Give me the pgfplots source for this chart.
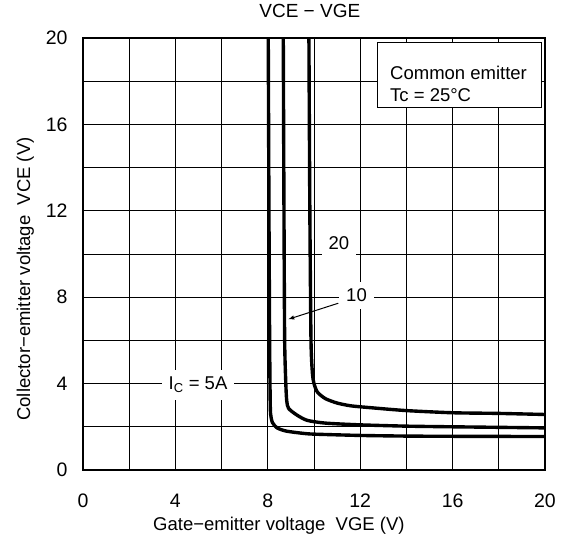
\documentclass[border=0pt]{standalone}
\usepackage{fontspec}
\setmainfont{Liberation Sans}
\usepackage{pgfplots}
\pgfplotsset{compat=1.18}
\newcommand{\fs}{\fontsize{18.5bp}{22bp}\selectfont}
\begin{document}
\begin{tikzpicture}
\useasboundingbox (-83bp,-71bp) rectangle (479bp,470bp);
\begin{axis}[
  at={(0,0)}, anchor=south west,
  scale only axis, width=462bp, height=432bp,
  xmin=0, xmax=20, ymin=0, ymax=20,
  xtick={0,4,...,20}, ytick={0,4,...,20},
  minor xtick={2,6,...,18}, minor ytick={2,6,...,18},
  grid=both,
  major grid style={black, line width=0.8pt},
  minor grid style={black, line width=0.8pt},
  major tick length=0pt, minor tick length=0pt,
  axis line style={black, line width=1.6pt},
  tick label style={font=\fontsize{19.5bp}{23bp}\selectfont},
  /pgf/number format/assume math mode=true,
  xticklabel style={anchor=center, yshift=-31bp},
  yticklabel style={anchor=east, xshift=-12bp},
  xlabel={Gate−emitter voltage\ \ VGE (V)},
  ylabel={Collector−emitter voltage\ \ VCE (V)},
  xlabel style={font=\fs, at={(axis description cs:0.424,-0.13)}, anchor=center},
  ylabel style={font=\fs, at={(axis description cs:-0.125,0.442)}, anchor=center},
  title={VCE − VGE},
  title style={font=\fontsize{19bp}{22bp}\selectfont, at={(axis description cs:0.491,1.049)}, anchor=center, yshift=0pt},
]
% Ic = 5A
\addplot[black, line width=3.4pt, smooth, tension=0.4] coordinates {
 (8.02,20) (8.05,12) (8.08,6) (8.10,3.5) (8.12,2.6) (8.2,2.2) (8.4,1.95) (8.8,1.8) (9.5,1.7) (10,1.66) (12,1.6) (14,1.57) (16,1.56) (20,1.55)};
% Ic = 10A
\addplot[black, line width=3.4pt, smooth, tension=0.4] coordinates {
 (8.67,20) (8.70,12) (8.73,6) (8.78,4) (8.82,3.2) (8.9,2.85) (9.25,2.55) (9.7,2.3) (10.5,2.17) (12,2.09) (14,2.03) (16,2.0) (20,1.95)};
% Ic = 20A
\addplot[black, line width=3.4pt, smooth, tension=0.4] coordinates {
 (9.78,20) (9.82,12) (9.87,6) (9.93,4.5) (10.0,4.0) (10.15,3.6) (10.5,3.3) (11,3.1) (11.6,2.97) (12.5,2.88) (14,2.75) (16,2.65) (18,2.62) (20,2.57)};
% labels
\node[fill=white, inner sep=7pt, font=\fs] at (axis cs:11.08,10.49) {20};
\node[fill=white, inner sep=7pt, font=\fs] at (axis cs:11.84,8.1) {10};
\draw[-latex, line width=1pt] (axis cs:11.05,7.72) -- (axis cs:8.89,6.98);
\node[fill=white, inner sep=7pt, font=\fs] at (axis cs:4.98,3.94) {I\textsubscript{C} = 5A};
\draw[black, line width=1pt, fill=white] (axis cs:12.77,19.8) rectangle (axis cs:19.85,16.76);
\node[anchor=base west, inner sep=0pt, font=\fs] at (axis cs:13.29,18.1) {Common emitter};
\node[anchor=base west, inner sep=0pt, font=\fs] at (axis cs:13.29,17.05) {Tc = 25°C};
\end{axis}
\end{tikzpicture}
\end{document}
